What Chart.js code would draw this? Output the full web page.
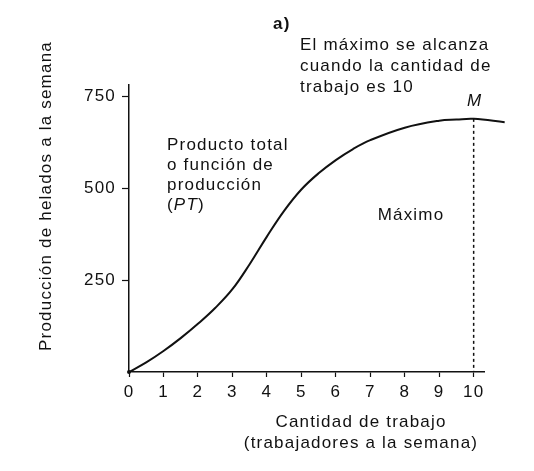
<!DOCTYPE html>
<html>
<head>
<meta charset="utf-8">
<script src="https://cdn.jsdelivr.net/npm/chart.js@4/dist/chart.umd.min.js"></script>
<style>
  html, body { margin: 0; padding: 0; background: #fff; }
  canvas { display: block; }
</style>
</head>
<body>
<canvas id="ptChart" width="534" height="471"></canvas>
<script>
// Producto total: cantidad de trabajo (x) vs. helados por semana (y)
const workers = [0, 0.5, 1, 1.5, 2, 2.5, 3, 3.5, 4, 4.5, 5, 5.5, 6, 6.5, 7, 8, 9, 9.5, 10, 10.9];
const output = [0, 26, 57, 92, 131, 174, 225, 293, 368, 438, 496, 540, 576, 606, 630, 664, 683, 686, 688, 679];
const xTicks = [0, 1, 2, 3, 4, 5, 6, 7, 8, 9, 10];
const yTicks = [250, 500, 750];
const maxWorkers = 10;
const maxOutput = 688;

const FONT = '"Liberation Sans", Arial, Helvetica, sans-serif';
const INK = '#111';
const SPACING = '1.2px';

Chart.defaults.font.family = FONT;
Chart.defaults.font.size = 17;
Chart.defaults.color = INK;

const notesPlugin = {
    id: 'notes',
    beforeLayout(chart) {
        chart.ctx.letterSpacing = SPACING;
    },
    beforeDraw(chart) {
        const ctx = chart.ctx;
        ctx.save();
        ctx.fillStyle = '#fff';
        ctx.fillRect(0, 0, chart.width, chart.height);
        ctx.restore();
        ctx.letterSpacing = SPACING;
    },
    afterDraw(chart) {
        const ctx = chart.ctx;
        ctx.save();
        ctx.letterSpacing = SPACING;
        ctx.fillStyle = INK;
        ctx.textBaseline = 'middle';

        const put = (str, x, y, style, align) => {
            ctx.font = (style || '') + ' 17px ' + FONT;
            ctx.textAlign = align || 'left';
            ctx.fillText(str, x, y);
        };

        // heading and note
        put('a)', 273, 24, 'bold');
        put('El máximo se alcanza', 300, 45);
        put('cuando la cantidad de', 300, 66);
        put('trabajo es 10', 300, 87);

        // M over the maximum
        const xs = chart.scales.x;
        put('M', xs.getPixelForValue(maxWorkers) + 1, 101, 'italic', 'center');

        // curve label
        put('Producto total', 167, 145);
        put('o función de', 167, 165);
        put('producción', 167, 185);
        let px = 167;
        ctx.font = '17px ' + FONT;
        ctx.textAlign = 'left';
        ctx.fillText('(', px, 205);
        px += ctx.measureText('(').width;
        ctx.font = 'italic 17px ' + FONT;
        ctx.fillText('PT', px, 205);
        px += ctx.measureText('PT').width;
        ctx.font = '17px ' + FONT;
        ctx.fillText(')', px, 205);

        put('Máximo', 411, 215, '', 'center');

        // axis titles
        put('Cantidad de trabajo', 361, 422, '', 'center');
        put('(trabajadores a la semana)', 361, 443, '', 'center');

        ctx.translate(46, 196);
        ctx.rotate(-Math.PI / 2);
        put('Producción de helados a la semana', 0, 0, '', 'center');
        ctx.restore();
    }
};

const ctx = document.getElementById('ptChart').getContext('2d');
new Chart(ctx, {
    type: 'line',
    data: {
        datasets: [{
            label: 'PT',
            data: workers.map((w, i) => ({ x: w, y: output[i] })),
            borderColor: INK,
            borderWidth: 2,
            pointRadius: c => c.dataIndex === 0 ? 2 : 0,
            pointBackgroundColor: INK,
            pointBorderWidth: 0,
            tension: 0.4,
            clip: false
        }, {
            label: 'Máximo',
            data: [{ x: maxWorkers, y: maxOutput }, { x: maxWorkers, y: 0 }],
            borderColor: INK,
            borderWidth: 1.5,
            borderDash: [3, 3],
            pointRadius: 0,
            clip: false
        }]
    },
    options: {
        responsive: false,
        animation: false,
        devicePixelRatio: 1,
        layout: { padding: { left: 0, right: 50, top: 85, bottom: 0 } },
        plugins: {
            legend: { display: false },
            tooltip: { enabled: false }
        },
        scales: {
            x: {
                type: 'linear',
                min: 0,
                max: 10.3,
                afterBuildTicks: s => { s.ticks = xTicks.map(v => ({ value: v })); },
                afterFit: s => { s.height = 99; },
                ticks: { padding: 5, color: INK, maxRotation: 0 },
                grid: { drawOnChartArea: false, drawTicks: true, tickLength: 5, tickColor: INK, tickWidth: 1.2 },
                border: { display: true, color: INK, width: 1.5 }
            },
            y: {
                type: 'linear',
                min: 0,
                max: 780,
                afterBuildTicks: s => { s.ticks = yTicks.map(v => ({ value: v })); },
                afterFit: s => { s.width = 129; },
                ticks: { padding: 6, color: INK },
                grid: { drawOnChartArea: false, drawTicks: true, tickLength: 7, tickColor: INK, tickWidth: 1.2 },
                border: { display: true, color: INK, width: 1.5 }
            }
        }
    },
    plugins: [notesPlugin]
});
</script>
</body>
</html>
